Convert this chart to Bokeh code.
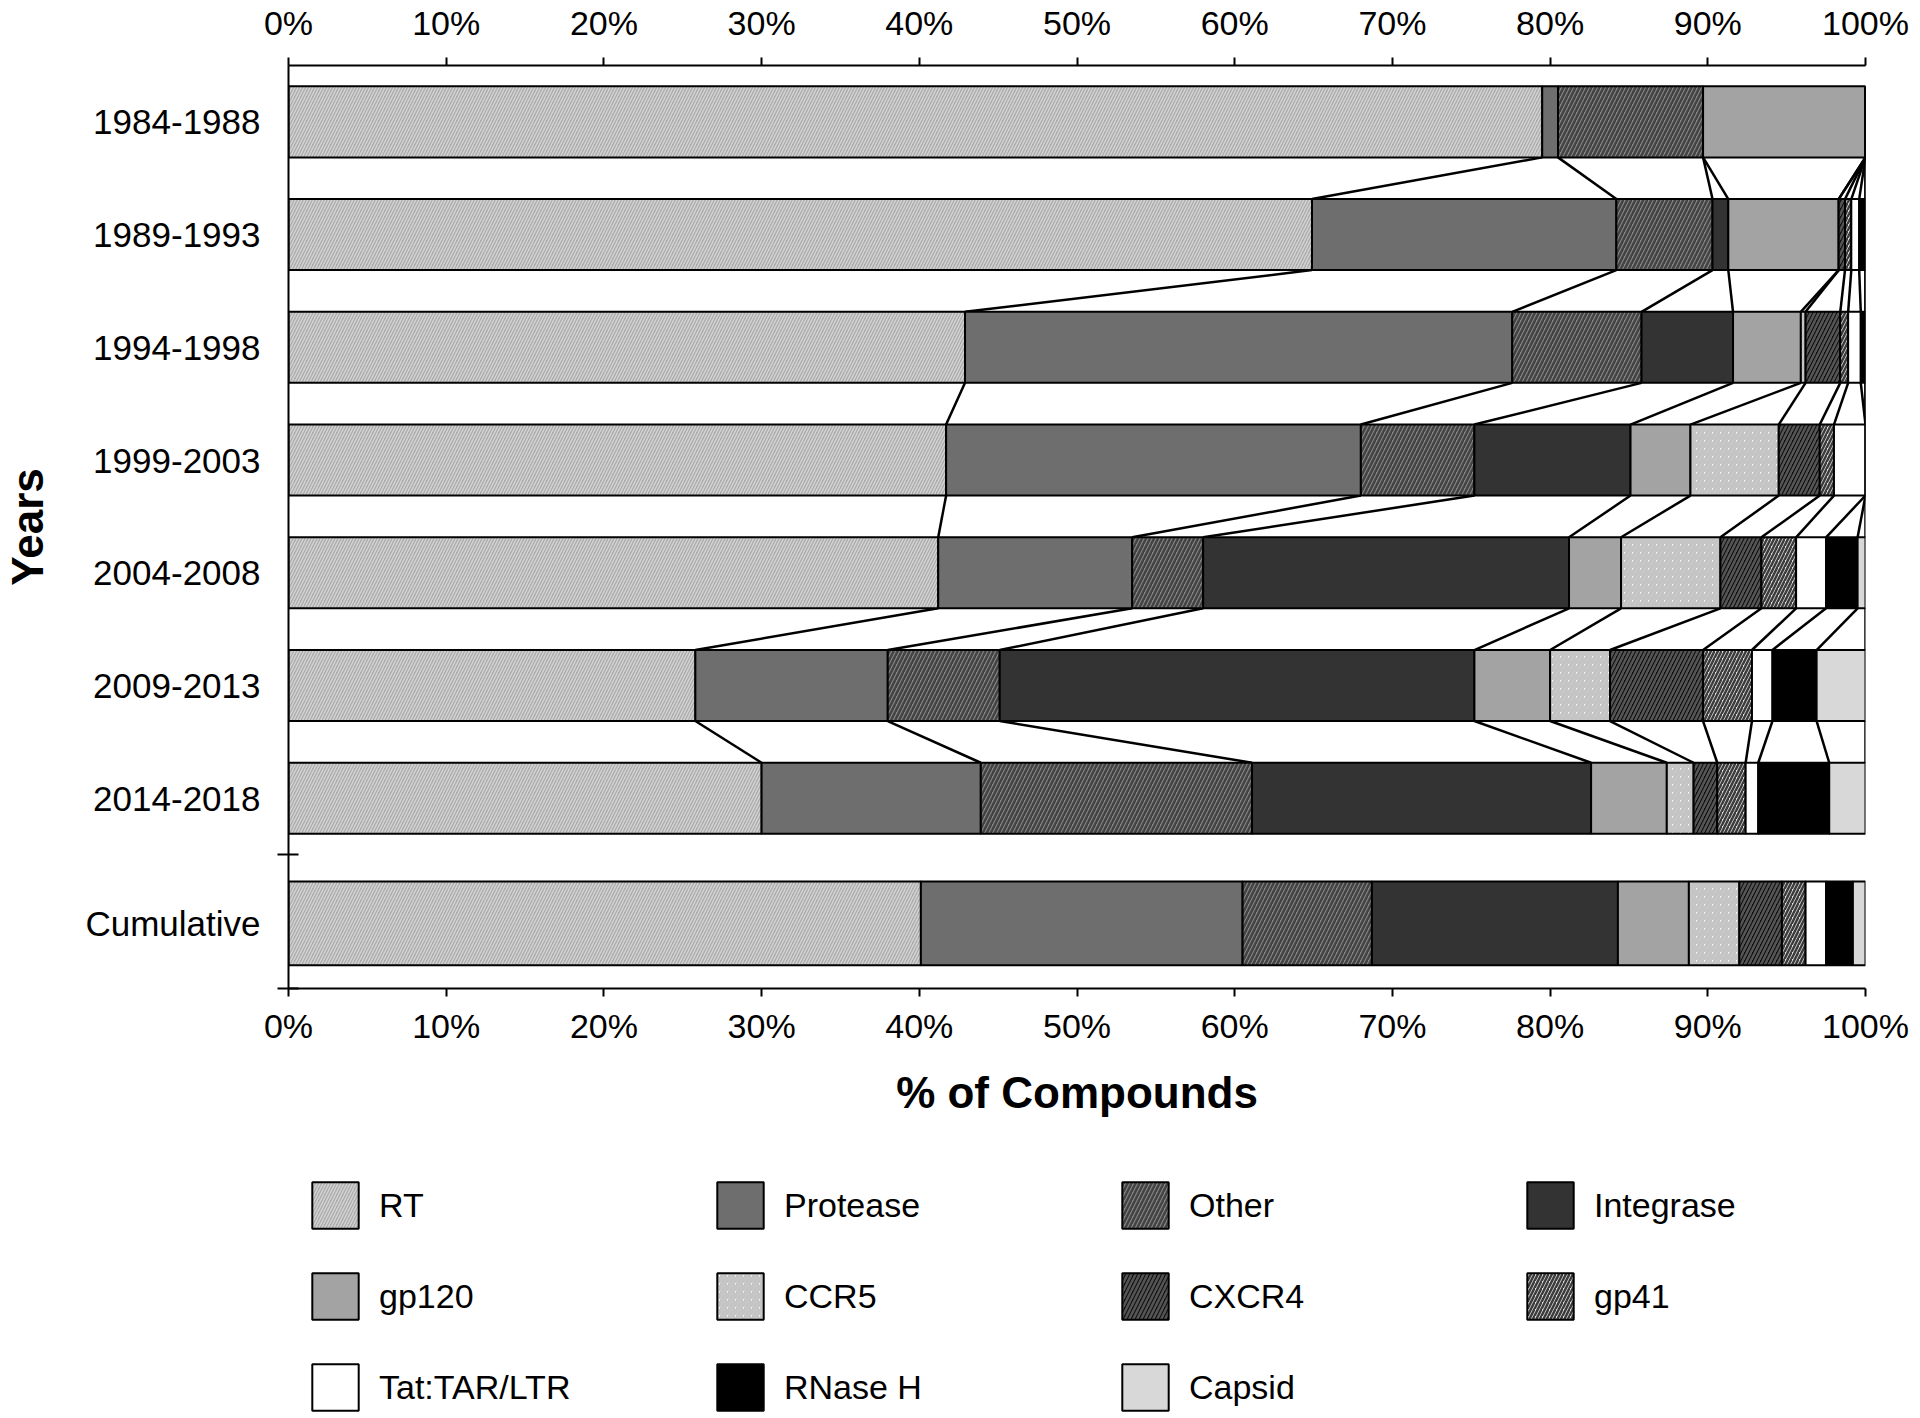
import numpy as np
from bokeh.plotting import figure
from bokeh.layouts import column
from bokeh.models import (ColumnDataSource, Range1d, LinearAxis, FixedTicker,
                          PrintfTickFormatter, Legend, LegendItem)
from bokeh.embed import file_html
from bokeh.resources import INLINE

# ---------------- data (percent of compounds) ----------------
categories = ["1984-1988", "1989-1993", "1994-1998", "1999-2003",
              "2004-2008", "2009-2013", "2014-2018", "Cumulative"]
series_names = ["RT", "Protease", "Other", "Integrase", "gp120", "CCR5",
                "CXCR4", "gp41", "Tat:TAR/LTR", "RNase H", "Capsid"]
rt        = [79.5, 64.9, 42.9, 41.7, 41.2, 25.8, 30.0, 40.1]
protease  = [1.0, 19.3, 34.7, 26.3, 12.3, 12.2, 13.9, 20.4]
other     = [9.2, 6.1, 8.2, 7.2, 4.5, 7.1, 17.2, 8.2]
integrase = [0.0, 1.0, 5.8, 9.9, 23.2, 30.1, 21.5, 15.6]
gp120     = [10.3, 7.0, 4.3, 3.8, 3.3, 4.8, 4.8, 4.5]
ccr5      = [0.0, 0.0, 0.3, 5.6, 6.3, 3.8, 1.7, 3.2]
cxcr4     = [0.0, 0.4, 2.2, 2.6, 2.6, 5.9, 1.5, 2.7]
gp41      = [0.0, 0.4, 0.5, 0.9, 2.2, 3.1, 1.8, 1.5]
tat       = [0.0, 0.5, 0.8, 2.0, 1.9, 1.3, 0.8, 1.3]
rnaseh    = [0.0, 0.4, 0.3, 0.0, 2.0, 2.8, 4.5, 1.7]
capsid    = [0.0, 0.0, 0.0, 0.0, 0.5, 3.1, 2.3, 0.8]
x_ticks = [0, 10, 20, 30, 40, 50, 60, 70, 80, 90, 100]

# ---------------- styles ----------------
styles = [
    dict(fill_color="#aaaaaa", hatch_pattern="/", hatch_color="#d2d2d2", hatch_scale=6, hatch_weight=1.5),   # RT
    dict(fill_color="#6e6e6e"),                                                                               # Protease
    dict(fill_color="#858585", hatch_pattern="/", hatch_color="#434343", hatch_scale=8, hatch_weight=2.5),   # Other
    dict(fill_color="#333333"),                                                                               # Integrase
    dict(fill_color="#a3a3a3"),                                                                               # gp120
    dict(fill_color="#ffffff", hatch_pattern="/", hatch_color="#c4c4c4", hatch_scale=8, hatch_weight=3.5),   # CCR5
    dict(fill_color="#101010", hatch_pattern="/", hatch_color="#555555", hatch_scale=8, hatch_weight=2.5),   # CXCR4
    dict(fill_color="#e6e6e6", hatch_pattern="/", hatch_color="#3c3c3c", hatch_scale=7, hatch_weight=2.5),   # gp41
    dict(fill_color="#ffffff"),                                                                               # Tat
    dict(fill_color="#000000"),                                                                               # RNase H
    dict(fill_color="#d8d8d8"),                                                                               # Capsid
]

vals = np.array([rt, protease, other, integrase, gp120, ccr5, cxcr4,
                 gp41, tat, rnaseh, capsid], dtype=float)
cum = np.cumsum(vals, axis=0)
lefts = cum - vals

n_years = 7
y_top = 8.1875
y_break = 1.1875
y_cum = 0.578125
y_pos = [y_top - 0.5 - i for i in range(n_years)] + [y_cum]
heights = [0.63] * n_years + [0.742]

FONT = "Liberation Sans"
FIG_W = 1904

p = figure(frame_width=1577, frame_height=923,
           x_range=Range1d(0, 100), y_range=Range1d(0, y_top),
           output_backend="svg", toolbar_location=None,
           min_border_left=281, min_border_right=46,
           min_border_top=40, min_border_bottom=140)
p.outline_line_color = None
p.xgrid.visible = False
p.ygrid.visible = False

# series lines between consecutive year bars
x0, y0, x1, y1 = [], [], [], []
for i in range(n_years - 1):
    for k in range(len(series_names)):
        x0.append(cum[k, i]); y0.append(y_pos[i] - heights[i] / 2)
        x1.append(cum[k, i + 1]); y1.append(y_pos[i + 1] + heights[i + 1] / 2)
p.segment(x0=x0, y0=y0, x1=x1, y1=y1, line_color="black", line_width=2.5)

for k, name in enumerate(series_names):
    src = ColumnDataSource(dict(y=y_pos, left=lefts[k], right=cum[k], h=heights))
    p.hbar(y="y", left="left", right="right", height="h", source=src,
           line_color="black", line_width=2, **styles[k])

# axes
bottom = p.xaxis[0]
top = LinearAxis()
p.add_layout(top, "above")
for ax in (bottom, top):
    ax.ticker = FixedTicker(ticks=x_ticks)
    ax.formatter = PrintfTickFormatter(format="%d%%")
    ax.major_tick_out = 8
    ax.major_tick_in = 0
    ax.minor_tick_out = 0
    ax.axis_line_width = 2
    ax.major_tick_line_width = 2
    ax.axis_line_color = "black"
    ax.major_tick_line_color = "black"
    ax.major_label_text_font = FONT
    ax.major_label_text_font_size = "34px"
    ax.major_label_text_color = "black"
top.major_label_standoff = 16
bottom.major_label_standoff = 10
bottom.axis_label = "% of Compounds"
bottom.axis_label_text_font = FONT
bottom.axis_label_text_font_size = "44px"
bottom.axis_label_text_font_style = "bold"
bottom.axis_label_text_color = "black"
bottom.axis_label_standoff = 20

ya = p.yaxis[0]
ya.ticker = FixedTicker(ticks=y_pos, minor_ticks=[y_break, 0])
ya.major_label_overrides = {y: c for y, c in zip(y_pos, categories)}
ya.major_tick_out = 0
ya.major_tick_in = 0
ya.minor_tick_out = 11
ya.minor_tick_in = 10
ya.minor_tick_line_width = 2
ya.minor_tick_line_color = "black"
ya.axis_line_width = 2
ya.axis_line_color = "black"
ya.major_label_standoff = 17
ya.major_label_text_font = FONT
ya.major_label_text_font_size = "35px"
ya.major_label_text_color = "black"
ya.axis_label = "Years"
ya.axis_label_text_font = FONT
ya.axis_label_text_font_size = "44px"
ya.axis_label_text_font_style = "bold"
ya.axis_label_text_color = "black"
ya.axis_label_standoff = 30

# ---------------- legend (separate strip below the chart) ----------------
lg = figure(width=FIG_W, height=289, x_range=Range1d(0, 1), y_range=Range1d(0, 1),
            output_backend="svg", toolbar_location=None,
            x_axis_location=None, y_axis_location=None,
            min_border=0, min_border_left=0, min_border_right=0,
            min_border_top=0, min_border_bottom=0)
lg.outline_line_color = None
lg.xgrid.visible = False
lg.ygrid.visible = False
items = []
nan = np.array([np.nan])
for k, name in enumerate(series_names):
    # swatch-only renderer: its single bar has no coordinates, so nothing is drawn
    r = lg.hbar(y=nan, left=nan, right=nan, height=nan,
                line_color="black", line_width=2, **styles[k])
    items.append(LegendItem(label=name, renderers=[r]))

legend = Legend(
    items=items, orientation="horizontal", ncols=4,
    glyph_width=58, glyph_height=58, label_standoff=15,
    label_width=299, label_height=46, spacing=33, padding=0, margin=0,
    border_line_color=None, background_fill_alpha=0,
    label_text_font=FONT, label_text_font_size="34px", label_text_color="black",
    location=(18, 1),
)
lg.add_layout(legend, "center")

layout = column(p, lg, spacing=0)
open("out.html", "w").write(file_html(layout, INLINE))
